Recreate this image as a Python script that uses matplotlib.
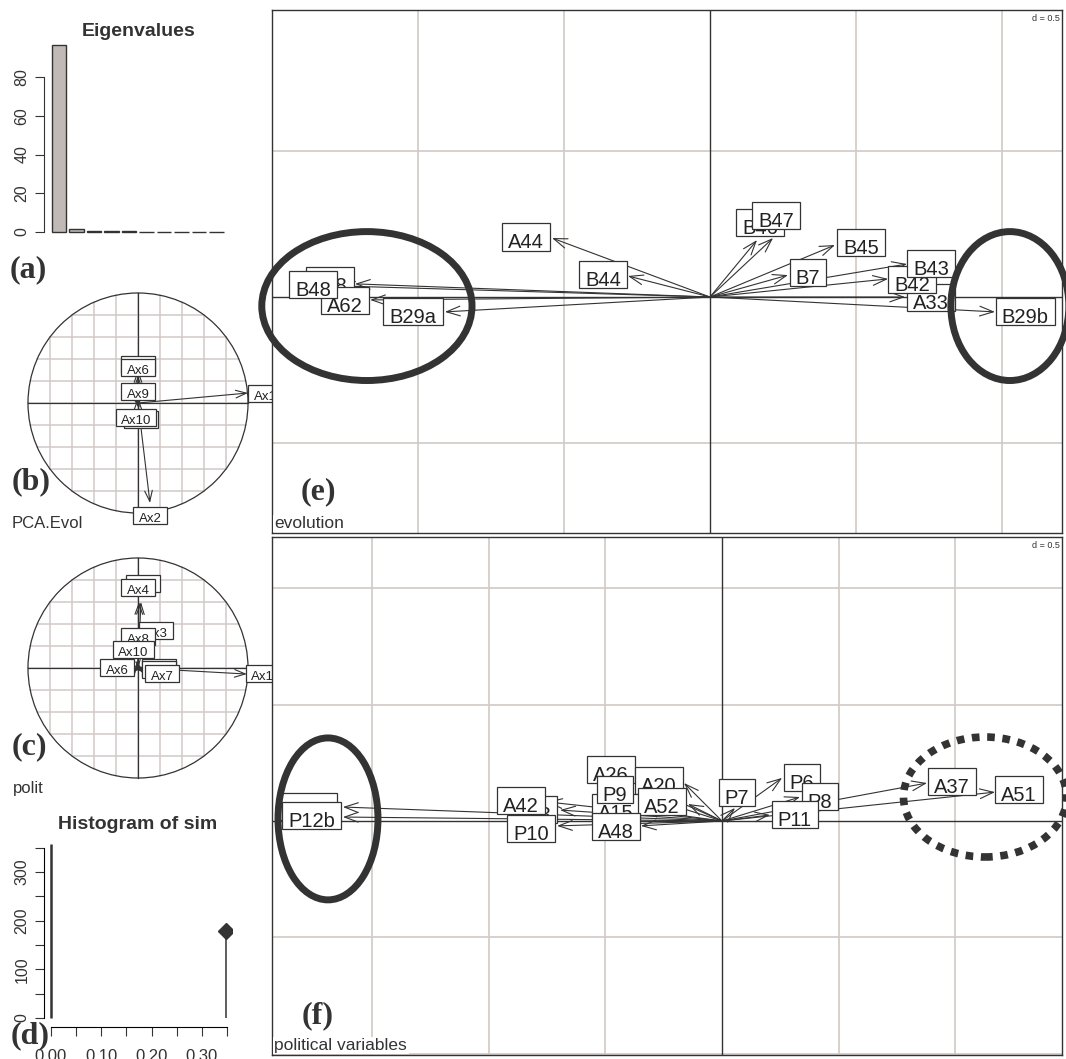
import numpy as np
import matplotlib.pyplot as plt
from matplotlib.patches import Ellipse, Circle
from matplotlib.path import Path

plt.rcParams['font.family'] = ['Liberation Sans', 'DejaVu Sans']

W, H = 1066, 1059
DARK = '#333333'
GRID = '#d1cac6'
BAR = '#c1b9b5'

# (a) eigenvalues
eig_values = [96.5, 1.6, 0.45, 0.35, 0.3, 0.25, 0.2, 0.15, 0.1, 0.05]

# (b) PCA.Evol correlation circle
evol_ax_names = ['Ax5', 'Ax6', 'Ax9', 'Ax8', 'Ax10', 'Ax2', 'Ax1']
evol_ax_lx = [0.0, 0.0, 0.0, 0.027, -0.018, 0.109, 1.155]
evol_ax_ly = [0.352, 0.327, 0.109, -0.145, -0.127, -1.018, 0.091]
evol_ax_tx = [0.0, 0.0, 0.0, 0.01, 0.0, 0.109, 1.0]
evol_ax_ty = [0.30, 0.25, 0.05, -0.05, -0.04, -0.909, 0.091]

# (c) polit correlation circle
polit_ax_names = ['Ax5', 'Ax4', 'Ax3', 'Ax8', 'Ax2', 'Ax10', 'Ax6', 'Ax9', 'Ax7', 'Ax1']
polit_ax_lx = [0.045, 0.0, 0.164, 0.0, 0.19, -0.045, -0.19, 0.19, 0.218, 1.136]
polit_ax_ly = [0.773, 0.736, 0.345, 0.29, 0.01, 0.173, 0.009, -0.009, -0.045, -0.045]
polit_ax_tx = [0.027, 0.009, 0.064, 0.0, 0.04, -0.01, -0.027, 0.036, 0.055, 0.99]
polit_ax_ty = [0.60, 0.60, 0.255, 0.21, 0.01, 0.07, 0.009, 0.0, -0.036, -0.055]

# (d) randtest histogram
sim_x = [0.0]
sim_count = [357]
obs_value = 0.348
obs_height = 178

# (e) evolution arrows
evo_names = ['A44', 'B44', 'A58', 'A62', 'B48', 'B29a', 'B46', 'B47', 'B45', 'B7',
             'A33', 'B42', 'B43', 'B29b']
evo_lx = [-0.630, -0.366, -1.301, -1.250, -1.360, -1.017, 0.171, 0.226, 0.517, 0.336,
          0.757, 0.692, 0.757, 1.079]
evo_ly = [0.205, 0.075, 0.055, -0.014, 0.041, -0.051, 0.253, 0.277, 0.185, 0.082,
          -0.003, 0.058, 0.113, -0.051]
evo_tx = [-0.541, -0.281, -1.216, -1.164, -1.267, -0.908, 0.161, 0.216, 0.428, 0.267,
          0.668, 0.610, 0.675, 0.976]
evo_ty = [0.202, 0.072, 0.045, -0.010, 0.038, -0.051, 0.195, 0.202, 0.178, 0.075,
          0.0, 0.062, 0.113, -0.051]

# (f) political variables arrows
pol_names = ['P12a', 'P12b', 'P13', 'A42', 'P10', 'A26', 'A20', 'A15', 'P9', 'A52',
             'A48', 'P7', 'P6', 'P8', 'P11', 'A37', 'A51']
pol_lx = [-1.777, -1.760, -0.811, -0.863, -0.820, -0.476, -0.270, -0.455, -0.459, -0.258,
          -0.455, 0.064, 0.343, 0.421, 0.313, 0.987, 1.275]
pol_ly = [0.060, 0.021, 0.047, 0.086, -0.034, 0.219, 0.172, 0.056, 0.133, 0.082,
          -0.026, 0.120, 0.185, 0.103, 0.026, 0.167, 0.133]
pol_tx = [-1.627, -1.627, -0.695, -0.751, -0.708, -0.365, -0.163, -0.343, -0.352, -0.146,
          -0.348, 0.056, 0.258, 0.335, 0.206, 0.880, 1.172]
pol_ty = [0.060, 0.017, 0.047, 0.082, -0.021, 0.163, 0.163, 0.047, 0.112, 0.073,
          -0.021, 0.056, 0.185, 0.103, 0.026, 0.163, 0.124]


def px_box(l, t, r, b):
    return [l / W, 1 - b / H, (r - l) / W, (b - t) / H]


def label_box(padx, pad_top, pad_bottom):
    def style(x0, y0, width, height, mutation_size):
        m = mutation_size
        xa, xb = x0 - padx * m, x0 + width + padx * m
        ya, yb = y0 - pad_bottom * m, y0 + height + pad_top * m
        return Path([(xa, ya), (xb, ya), (xb, yb), (xa, yb), (xa, ya)], closed=True)
    return style


def draw_arrow(ax, x, y, ms=14, lw=0.8):
    ax.annotate('', xy=(x, y), xytext=(0, 0), annotation_clip=False,
                arrowprops=dict(arrowstyle='->,head_length=0.7,head_width=0.25',
                                color=DARK, lw=lw, shrinkA=0, shrinkB=0,
                                mutation_scale=ms), zorder=3)


def draw_label(ax, x, y, s, fs, padx):
    ax.annotate(s, xy=(x, y), xytext=(0, -0.545 * fs), textcoords='offset points',
                ha='center', va='baseline', fontsize=fs, color='#222222',
                annotation_clip=False, zorder=4,
                bbox=dict(boxstyle=label_box(padx, 0.49, -0.08), fc='white',
                          ec=DARK, lw=0.9))


def corcircle(ax, names, lx, ly, tx, ty):
    ax.set_xlim(-1.0727, 1.0727)
    ax.set_ylim(-1.0727, 1.0727)
    ax.axis('off')
    for g in np.arange(-0.8, 0.81, 0.2):
        h = np.sqrt(1 - g ** 2)
        ax.plot([g, g], [-h, h], color=GRID, lw=1.1, zorder=1)
        ax.plot([-h, h], [g, g], color=GRID, lw=1.1, zorder=1)
    ax.add_patch(Circle((0, 0), 1, fill=False, ec=DARK, lw=0.9, zorder=2))
    ax.plot([-1, 1], [0, 0], color=DARK, lw=0.9, zorder=2)
    ax.plot([0, 0], [-1, 1], color=DARK, lw=0.9, zorder=2)
    for x, y in zip(tx, ty):
        draw_arrow(ax, x, y, ms=11, lw=0.8)
    for x, y, s in zip(lx, ly, names):
        draw_label(ax, x, y, s, 9.5, 0.4)


def arrow_panel(ax, xlim, ylim, names, lx, ly, tx, ty, title):
    ax.set_xlim(xlim)
    ax.set_ylim(ylim)
    ax.set_xticks([])
    ax.set_yticks([])
    for sp in ax.spines.values():
        sp.set_color(DARK)
        sp.set_linewidth(1.0)
    for g in np.arange(-2.0, 2.01, 0.5):
        if g != 0:
            ax.axvline(g, color=GRID, lw=1.2, zorder=1)
            ax.axhline(g, color=GRID, lw=1.2, zorder=1)
    ax.axvline(0, color=DARK, lw=1.0, zorder=2)
    ax.axhline(0, color=DARK, lw=1.0, zorder=2)
    for x, y in zip(tx, ty):
        draw_arrow(ax, x, y)
    for x, y, s in zip(lx, ly, names):
        draw_label(ax, x, y, s, 14.5, 0.3)
    ax.text(0.997, 0.992, 'd = 0.5', transform=ax.transAxes, ha='right', va='top',
            fontsize=6.5, color=DARK, zorder=6,
            bbox=dict(fc='white', ec='none', pad=0.5))
    ax.text(0.003, 0.004, title, transform=ax.transAxes, ha='left', va='bottom',
            fontsize=12.5, color=DARK, zorder=6,
            bbox=dict(fc='white', ec='none', pad=1.0))


fig = plt.figure(figsize=(W / 100, H / 100), dpi=100)

# (a) Eigenvalues
ax_a = fig.add_axes(px_box(44, 40, 234, 236))
ax_a.bar(range(len(eig_values)), eig_values, width=0.83, color=BAR, edgecolor=DARK, lw=1)
ax_a.set_xlim(-0.857, 10.0)
ax_a.set_ylim(-2.06, 99.1)
for k in ['top', 'right', 'bottom']:
    ax_a.spines[k].set_visible(False)
ax_a.spines['left'].set_bounds(0, 80)
ax_a.spines['left'].set_color(DARK)
ax_a.set_xticks([])
ax_a.set_yticks([0, 20, 40, 60, 80])
ax_a.set_yticklabels(['0', '20', '40', '60', '80'], rotation=90, va='center', fontsize=11.5,
                     color=DARK)
ax_a.tick_params(axis='y', length=6.5, color=DARK, pad=4)
ax_a.set_title('Eigenvalues', fontweight='bold', fontsize=14, color=DARK, pad=2)

# (b) PCA.Evol
ax_b = fig.add_axes(px_box(20, 285, 256, 521))
corcircle(ax_b, evol_ax_names, evol_ax_lx, evol_ax_ly, evol_ax_tx, evol_ax_ty)

# (c) polit
ax_c = fig.add_axes(px_box(20, 550, 256, 786))
corcircle(ax_c, polit_ax_names, polit_ax_lx, polit_ax_ly, polit_ax_tx, polit_ax_ty)

# (d) Histogram of sim
ax_d = fig.add_axes(px_box(44, 840, 232, 1027))
ax_d.vlines(sim_x, 0, sim_count, color=DARK, lw=1.8)
ax_d.vlines([obs_value], 0, [obs_height], color=DARK, lw=1.1)
ax_d.plot([obs_value], [obs_height], 'D', ms=8, color=DARK)
ax_d.set_xlim(-0.0139, 0.36)
ax_d.set_ylim(-18.5, 365.7)
for k in ['top', 'right']:
    ax_d.spines[k].set_visible(False)
ax_d.spines['left'].set_bounds(0, 350)
ax_d.spines['bottom'].set_bounds(0, 0.35)
ax_d.set_yticks(np.arange(0, 351, 50))
ax_d.set_yticklabels(['0', '', '100', '', '200', '', '300', ''], rotation=90, va='center',
                     fontsize=11.5, color=DARK)
ax_d.set_xticks(np.arange(0, 0.351, 0.05))
ax_d.set_xticklabels(['0.00', '', '0.10', '', '0.20', '', '0.30', ''], fontsize=12,
                     color=DARK)
ax_d.tick_params(length=6.5, color=DARK, pad=4)
ax_d.tick_params(axis='x', pad=9)
ax_d.set_title('Histogram of sim', fontweight='bold', fontsize=14, color=DARK, pad=8)

# (e) evolution
ax_e = fig.add_axes(px_box(272, 10, 1062, 533))
arrow_panel(ax_e, (-1.5, 1.2055), (-0.8082, 0.9829), evo_names, evo_lx, evo_ly,
            evo_tx, evo_ty, 'evolution')
ax_e.add_patch(Ellipse((-1.175, -0.031), 0.72, 0.51, fill=False, ec=DARK, lw=5,
                       clip_on=False, zorder=5))
ax_e.add_patch(Ellipse((1.027, -0.031), 0.404, 0.51, fill=False, ec=DARK, lw=5,
                       clip_on=False, zorder=5))

# (f) political variables
ax_f = fig.add_axes(px_box(272, 537, 1062, 1055))
arrow_panel(ax_f, (-1.9313, 1.4592), (-1.0043, 1.2189), pol_names, pol_lx, pol_ly,
            pol_tx, pol_ty, 'political variables')
ax_f.add_patch(Ellipse((-1.691, 0.009), 0.429, 0.695, fill=False, ec=DARK, lw=5,
                       clip_on=False, zorder=5))
ax_f.add_patch(Ellipse((1.129, 0.103), 0.70, 0.515, fill=False, ec=DARK, lw=5.5,
                       ls=(0, (1, 1)), capstyle='butt', clip_on=False, zorder=5))

# panel letters and sub titles
serif = dict(family='Liberation Serif', fontweight='bold', fontsize=23, color=DARK,
             ha='center', va='center')
for s, x, y in [('(a)', 28, 270), ('(b)', 31, 482), ('(c)', 29, 747), ('(d)', 30, 1036),
                ('(e)', 318, 492), ('(f)', 318, 1016)]:
    fig.text(x / W, 1 - y / H, s, zorder=10, **serif)
fig.text(12 / W, 1 - 524 / H, 'PCA.Evol', fontsize=12, color=DARK, va='center')
fig.text(13 / W, 1 - 789 / H, 'polit', fontsize=12, color=DARK, va='center')

fig.savefig('out.png', dpi=100)
